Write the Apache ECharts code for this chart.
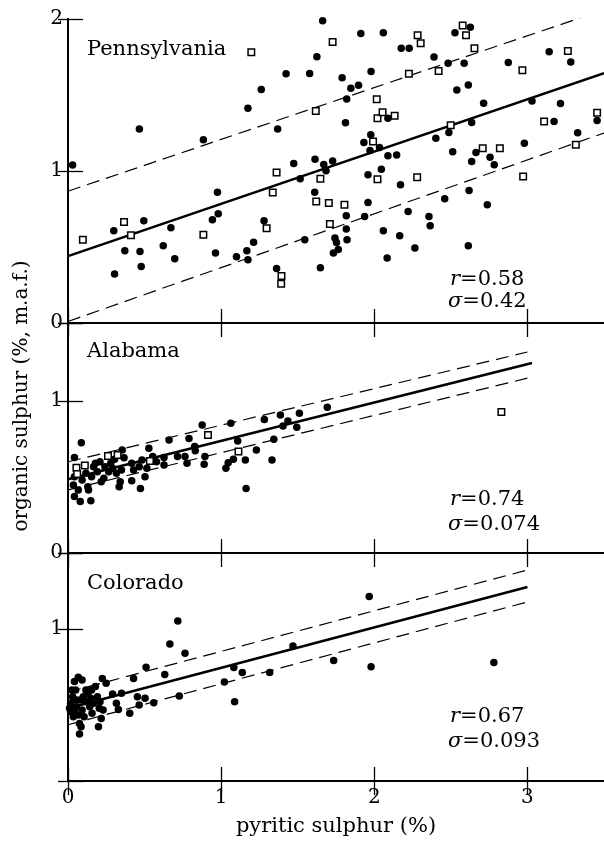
<!DOCTYPE html>
<html>
<head>
<meta charset="utf-8">
<script src="https://cdn.jsdelivr.net/npm/echarts@6/dist/echarts.min.js"></script>
<style>html,body{margin:0;padding:0;background:#fff}#c{width:604px;height:843px}</style>
</head>
<body>
<div id="c"></div>
<script>
// ---------------- DATA ----------------
const panelNames = ['Pennsylvania', 'Alabama', 'Colorado'];
const statR = ['0.58', '0.74', '0.67'];
const statSigma = ['0.42', '0.074', '0.093'];
const xTickValues = [0, 1, 2, 3];
const xLabel = 'pyritic sulphur (%)';
const yLabel = 'organic sulphur (%, m.a.f.)';

// Pennsylvania
const pennFilled = [
[0.03,1.04],[0.466,1.277],[0.304,0.322],[0.299,0.607],[0.371,0.475],[0.47,0.471],[0.478,0.372],[0.495,0.672],
[0.622,0.508],[0.672,0.626],[0.697,0.423],[0.884,1.205],[0.963,0.46],[0.976,0.861],[0.943,0.679],[0.981,0.718],
[1.1,0.436],[1.168,0.475],[1.175,0.416],[1.175,1.413],[1.212,0.532],[1.262,1.536],[1.28,0.672],[1.362,0.359],
[1.369,1.277],[1.424,1.639],[1.474,1.049],[1.516,0.949],[1.546,0.548],[1.578,1.641],[1.611,0.861],[1.613,1.078],
[1.625,1.752],[1.663,1.989],[1.648,0.364],[1.67,1.043],[1.685,1.001],[1.728,1.065],[1.733,0.46],[1.743,0.56],
[1.753,0.53],[1.765,0.484],[1.79,1.614],[1.812,1.317],[1.82,1.474],[1.822,0.548],[1.817,0.618],[1.817,0.705],
[1.847,1.544],[1.897,1.564],[1.912,1.904],[1.937,0.701],[1.959,0.793],[1.959,0.975],[1.932,1.187],[1.977,1.238],
[1.979,1.654],[1.972,1.135],[2.034,1.154],[2.059,1.91],[2.046,1.012],[2.059,0.607],[2.084,0.427],[2.089,1.1],
[2.089,1.347],[2.146,1.106],[2.166,0.574],[2.171,0.909],[2.176,1.807],[2.228,1.807],[2.221,0.734],[2.265,0.493],
[2.357,0.701],[2.365,0.64],[2.39,1.75],[2.402,1.216],[2.46,0.817],[2.482,1.709],[2.487,1.253],[2.512,1.126],
[2.527,1.91],[2.539,1.533],[2.587,1.709],[2.614,1.566],[2.627,1.945],[2.619,0.872],[2.614,0.508],[2.636,1.319],
[2.636,1.062],[2.664,1.122],[2.714,1.446],[2.738,0.778],[2.756,1.091],[2.783,1.041],[2.875,1.713],[2.98,1.183],
[3.03,1.461],[3.142,1.785],[3.174,1.325],[3.216,1.444],[3.283,1.717],[3.328,1.251],[3.455,1.332]
];
const pennOpen = [
[0.097,0.548],[0.366,0.664],[0.411,0.578],[0.884,0.58],[1.197,1.781],[1.297,0.624],[1.337,0.859],[1.362,0.99],
[1.394,0.309],[1.392,0.258],[1.618,1.395],[1.621,0.8],[1.648,0.949],[1.703,0.789],[1.71,0.651],[1.728,1.849],
[1.805,0.778],[1.992,1.194],[2.016,1.472],[2.021,1.347],[2.054,1.387],[2.133,1.363],[2.021,0.946],[2.226,1.639],
[2.283,1.893],[2.303,1.84],[2.28,0.959],[2.42,1.658],[2.499,1.301],[2.577,1.958],[2.599,1.893],[2.654,1.807],
[2.708,1.15],[2.82,1.15],[2.967,1.663],[2.972,0.964],[3.109,1.325],[3.264,1.79],[3.316,1.172],[3.455,1.384]
];
const pennFit = [[0, 0.44], [3.5, 1.644]];
const pennUpper = [[0, 0.867], [3.5, 2.06]];
const pennLower = [[0, 0.01], [3.5, 1.25]];

// Alabama
const alaFilled = [
[0.042,0.629],[0.087,0.726],[0.042,0.502],[0.035,0.447],[0.042,0.371],[0.08,0.338],[0.067,0.414],[0.092,0.48],
[0.117,0.524],[0.129,0.436],[0.134,0.414],[0.149,0.344],[0.154,0.502],[0.167,0.568],[0.179,0.59],[0.192,0.535],
[0.209,0.601],[0.217,0.469],[0.234,0.491],[0.241,0.568],[0.266,0.535],[0.279,0.59],[0.291,0.557],[0.304,0.616],
[0.316,0.524],[0.334,0.436],[0.341,0.469],[0.349,0.546],[0.354,0.678],[0.366,0.627],[0.416,0.59],[0.416,0.476],
[0.428,0.546],[0.465,0.568],[0.473,0.425],[0.483,0.612],[0.503,0.502],[0.515,0.557],[0.528,0.689],[0.553,0.634],
[0.578,0.601],[0.627,0.579],[0.627,0.629],[0.66,0.743],[0.715,0.634],[0.764,0.634],[0.777,0.59],[0.79,0.754],
[0.827,0.7],[0.831,0.673],[0.876,0.842],[0.889,0.583],[0.894,0.634],[1.031,0.557],[1.046,0.594],[1.063,0.853],
[1.08,0.616],[1.108,0.737],[1.163,0.425],[1.158,0.612],[1.23,0.678],[1.282,0.879],[1.332,0.612],[1.344,0.748],
[1.387,0.908],[1.404,0.836],[1.436,0.868],[1.494,0.827],[1.511,0.919],[1.693,0.958]
];
const alaOpen = [
[0.055,0.561],[0.06,0.52],[0.11,0.575],[0.261,0.638],[0.324,0.645],[0.535,0.605],[0.914,0.776],[1.113,0.667],[2.83,0.928]
];
const alaFit = [[0, 0.485], [3.03, 1.25]];
const alaUpper = [[0, 0.6], [3.0, 1.322]];
const alaLower = [[0, 0.415], [3.0, 1.15]];

// Colorado
const colFilled = [
[1.967,1.213],[0.717,1.053],[0.665,0.901],[0.764,0.84],[1.469,0.888],[1.735,0.792],[1.979,0.752],[2.781,0.779],
[1.083,0.746],[1.138,0.713],[1.317,0.713],[1.021,0.651],[1.088,0.522],[0.727,0.559],[0.632,0.7],[0.51,0.748],
[0.428,0.675],[0.349,0.577],[0.291,0.572],[0.316,0.511],[0.329,0.471],[0.403,0.445],[0.453,0.555],[0.465,0.5],
[0.503,0.544],[0.56,0.515],[0.224,0.675],[0.249,0.643],[0.179,0.621],[0.042,0.654],[0.067,0.682],[0.092,0.664],
[0.05,0.599],[0.03,0.555],[0.017,0.511],[0.017,0.456],[0.035,0.423],[0.055,0.489],[0.08,0.533],[0.092,0.467],
[0.105,0.423],[0.075,0.379],[0.085,0.357],[0.075,0.309],[0.117,0.522],[0.129,0.577],[0.142,0.489],[0.149,0.544],
[0.157,0.445],[0.167,0.511],[0.192,0.555],[0.204,0.478],[0.209,0.522],[0.217,0.412],[0.199,0.357],[0.229,0.467],
[0.154,0.599],[0.117,0.599],[0.025,0.599],[0.055,0.533],[0.01,0.478],[0.1,0.555],[0.042,0.467],[0.067,0.434]
];
const colFit = [[0, 0.479], [3.0, 1.276]];
const colUpper = [[0, 0.585], [3.0, 1.388]];
const colLower = [[0, 0.37], [3.0, 1.178]];

const yMax = [2, 1.513, 1.5];

// ---------------- CHART ----------------
const FONT = 'DejaVu Serif';
const grids = [
  {left: 68, width: 541, top: 19, height: 304},
  {left: 68, width: 541, top: 323, height: 230},
  {left: 68, width: 541, top: 553, height: 228}
];
const axisLine = {show: true, lineStyle: {color: '#000', width: 1.8}};
const xAxes = [], yAxes = [];
grids.forEach((g, i) => {
  ['bottom', 'top'].forEach(pos => {
    const showLab = (i === 2 && pos === 'bottom');
    xAxes.push({
      gridIndex: i, type: 'value', position: pos, min: 0, max: 3.5, interval: 1,
      axisLine: axisLine, splitLine: {show: false},
      axisTick: {show: true, inside: true, length: 14, customValues: xTickValues, lineStyle: {color: '#000', width: 1.3}},
      axisLabel: {show: showLab, margin: 7, color: '#000', fontFamily: FONT, fontSize: 20, customValues: xTickValues,
        formatter: v => (xTickValues.indexOf(v) >= 0 ? String(v) : '')},
      name: showLab ? xLabel : '', nameLocation: 'middle', nameGap: 35,
      nameTextStyle: {color: '#000', fontFamily: FONT, fontSize: 21}
    });
  });
  ['left', 'right'].forEach(pos => {
    const showLab = pos === 'left';
    yAxes.push({
      gridIndex: i, type: 'value', position: pos, min: 0, max: yMax[i], interval: 1,
      axisLine: axisLine, splitLine: {show: false},
      axisTick: {show: true, inside: true, length: pos === 'left' ? 15 : 10, lineStyle: {color: '#000', width: 1.3}},
      axisLabel: {show: showLab, margin: 5, color: '#000', fontFamily: FONT, fontSize: 20,
        formatter: v => {
          if (Math.abs(v - Math.round(v)) > 1e-9) return '';
          if (i === 2 && v === 0) return '';
          return String(v);
        }}
    });
  });
});

const series = [];
const fits = [[pennFit, pennUpper, pennLower], [alaFit, alaUpper, alaLower], [colFit, colUpper, colLower]];
fits.forEach((f, i) => {
  f.forEach((d, k) => {
    series.push({
      type: 'line', xAxisIndex: i * 2, yAxisIndex: i * 2, data: d, symbol: 'none', silent: true, clip: true,
      lineStyle: k === 0 ? {color: '#000', width: 2.5, type: 'solid'} : {color: '#000', width: 1.2, type: [13, 7]},
      z: 2
    });
  });
});
const filledSets = [pennFilled, alaFilled, colFilled];
const openSets = [pennOpen, alaOpen, null];
filledSets.forEach((d, i) => {
  series.push({type: 'scatter', xAxisIndex: i * 2, yAxisIndex: i * 2, data: d, symbol: 'circle', symbolSize: 7.5,
    itemStyle: {color: '#000', opacity: 1}, z: 4});
  if (openSets[i]) series.push({type: 'scatter', xAxisIndex: i * 2, yAxisIndex: i * 2, data: openSets[i], symbol: 'rect', symbolSize: 6.5,
    itemStyle: {color: '#fff', borderColor: '#000', borderWidth: 1.5, opacity: 1}, z: 5});
});

const nameY = [50, 352, 584];
const rY = [280, 500, 717];
const sY = [302, 525, 742];
const graphic = [];
panelNames.forEach((n, i) => {
  graphic.push({type: 'text', x: 87, y: nameY[i], style: {text: n, font: '21px "DejaVu Serif"', fill: '#000', verticalAlign: 'middle'}});
  graphic.push({type: 'text', x: 450, y: rY[i], style: {text: '{i|r}=' + statR[i], font: '21px "DejaVu Serif"', fill: '#000', verticalAlign: 'middle',
    rich: {i: {fontStyle: 'italic', fontFamily: FONT, fontSize: 21, fill: '#000'}}}});
  graphic.push({type: 'text', x: 448, y: sY[i], style: {text: '{i|σ}=' + statSigma[i], font: '21px "DejaVu Serif"', fill: '#000', verticalAlign: 'middle',
    rich: {i: {fontStyle: 'italic', fontFamily: FONT, fontSize: 21, fill: '#000'}}}});
});
graphic.push({type: 'text', x: 22, y: 396, rotation: Math.PI / 2,
  style: {text: yLabel, font: '20px "DejaVu Serif"', fill: '#000', align: 'center', verticalAlign: 'middle'}});

const chart = echarts.init(document.getElementById('c'), null, {renderer: 'canvas'});
chart.setOption({
  animation: false,
  backgroundColor: '#fff',
  grid: grids,
  xAxis: xAxes,
  yAxis: yAxes,
  series: series,
  graphic: graphic
});
</script>
</body>
</html>
